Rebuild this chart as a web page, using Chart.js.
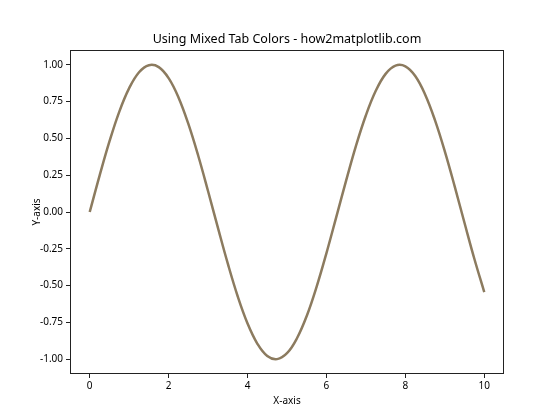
<!DOCTYPE html>
<html>
<head>
<meta charset="utf-8">
<script src="https://cdn.jsdelivr.net/npm/chart.js@4/dist/chart.umd.min.js"></script>
<style>
  html, body { margin: 0; padding: 0; background: #fff; }
</style>
</head>
<body>
<canvas id="chart" width="560" height="420"></canvas>
<script>
// values
const xValues = [0, 0.25, 0.5, 0.75, 1, 1.25, 1.5, 1.75, 2, 2.25, 2.5, 2.75, 3, 3.25, 3.5, 3.75,
                 4, 4.25, 4.5, 4.75, 5, 5.25, 5.5, 5.75, 6, 6.25, 6.5, 6.75, 7, 7.25, 7.5, 7.75,
                 8, 8.25, 8.5, 8.75, 9, 9.25, 9.5, 9.75, 10];
const yValues = [0.000, 0.247, 0.479, 0.682, 0.841, 0.949, 0.997, 0.984, 0.909, 0.778, 0.598,
                 0.382, 0.141, -0.108, -0.351, -0.572, -0.757, -0.895, -0.978, -0.999, -0.959,
                 -0.859, -0.706, -0.508, -0.279, -0.033, 0.215, 0.451, 0.657, 0.823, 0.938,
                 0.994, 0.989, 0.923, 0.798, 0.624, 0.412, 0.174, -0.075, -0.319, -0.544];
const xTicks = [0, 2, 4, 6, 8, 10];
const yTicks = [-1.00, -0.75, -0.50, -0.25, 0.00, 0.25, 0.50, 0.75, 1.00];

const FONT = "'Noto Sans', 'DejaVu Sans', sans-serif";
const AXIS = '#222';

// box around the plot area, like matplotlib's spines; title centred over it
const frame = {
    id: 'frame',
    beforeDraw(chart) {
        const a = chart.chartArea;
        if (chart.titleBlock) {
            chart.titleBlock.left = a.left;
            chart.titleBlock.right = a.right;
        }
    },
    afterDraw(chart) {
        const { ctx, chartArea: a } = chart;
        ctx.save();
        ctx.strokeStyle = AXIS;
        ctx.lineWidth = 1;
        ctx.strokeRect(Math.round(a.left) + 0.5, Math.round(a.top) + 0.5,
                       Math.round(a.right - a.left) - 1, Math.round(a.bottom - a.top) - 1);
        ctx.restore();
    }
};

new Chart(document.getElementById('chart'), {
    type: 'line',
    data: {
        datasets: [{
            data: xValues.map((x, i) => ({ x, y: yValues[i] })),
            borderColor: '#8c7b5f',
            borderWidth: 2.5,
            pointRadius: 0,
            tension: 0.4,
            fill: false
        }]
    },
    options: {
        responsive: false,
        animation: false,
        devicePixelRatio: 1,
        layout: { padding: { left: 0, right: 56, top: 0, bottom: 0 } },
        plugins: {
            legend: { display: false },
            tooltip: { enabled: false },
            title: {
                display: true,
                text: 'Using Mixed Tab Colors - how2matplotlib.com',
                color: '#000',
                font: { family: FONT, size: 12.5, weight: 'normal' },
                padding: { top: 32, bottom: 3 }
            }
        },
        scales: {
            x: {
                type: 'linear',
                min: -0.5,
                max: 10.5,
                afterFit: s => { s.height = 46; },
                afterBuildTicks: s => { s.ticks = xTicks.map(v => ({ value: v })); },
                ticks: { color: '#000', padding: 2, font: { family: FONT, size: 10 }, callback: v => String(v) },
                grid: { drawOnChartArea: false, drawTicks: true, tickLength: 4, color: AXIS },
                border: { display: false },
                title: { display: true, text: 'X-axis', color: '#000', font: { family: FONT, size: 10 }, padding: { top: 0, bottom: 13 } }
            },
            y: {
                min: -1.1,
                max: 1.1,
                afterFit: s => { s.width = 70; },
                afterBuildTicks: s => { s.ticks = yTicks.map(v => ({ value: v })); },
                ticks: { color: '#000', padding: 3, font: { family: FONT, size: 10 }, callback: v => v.toFixed(2) },
                grid: { drawOnChartArea: false, drawTicks: true, tickLength: 4, color: AXIS },
                border: { display: false },
                title: { display: true, text: 'Y-axis', color: '#000', font: { family: FONT, size: 10 }, padding: { top: 31, bottom: 0 } }
            }
        }
    },
    plugins: [frame]
});
</script>
</body>
</html>
